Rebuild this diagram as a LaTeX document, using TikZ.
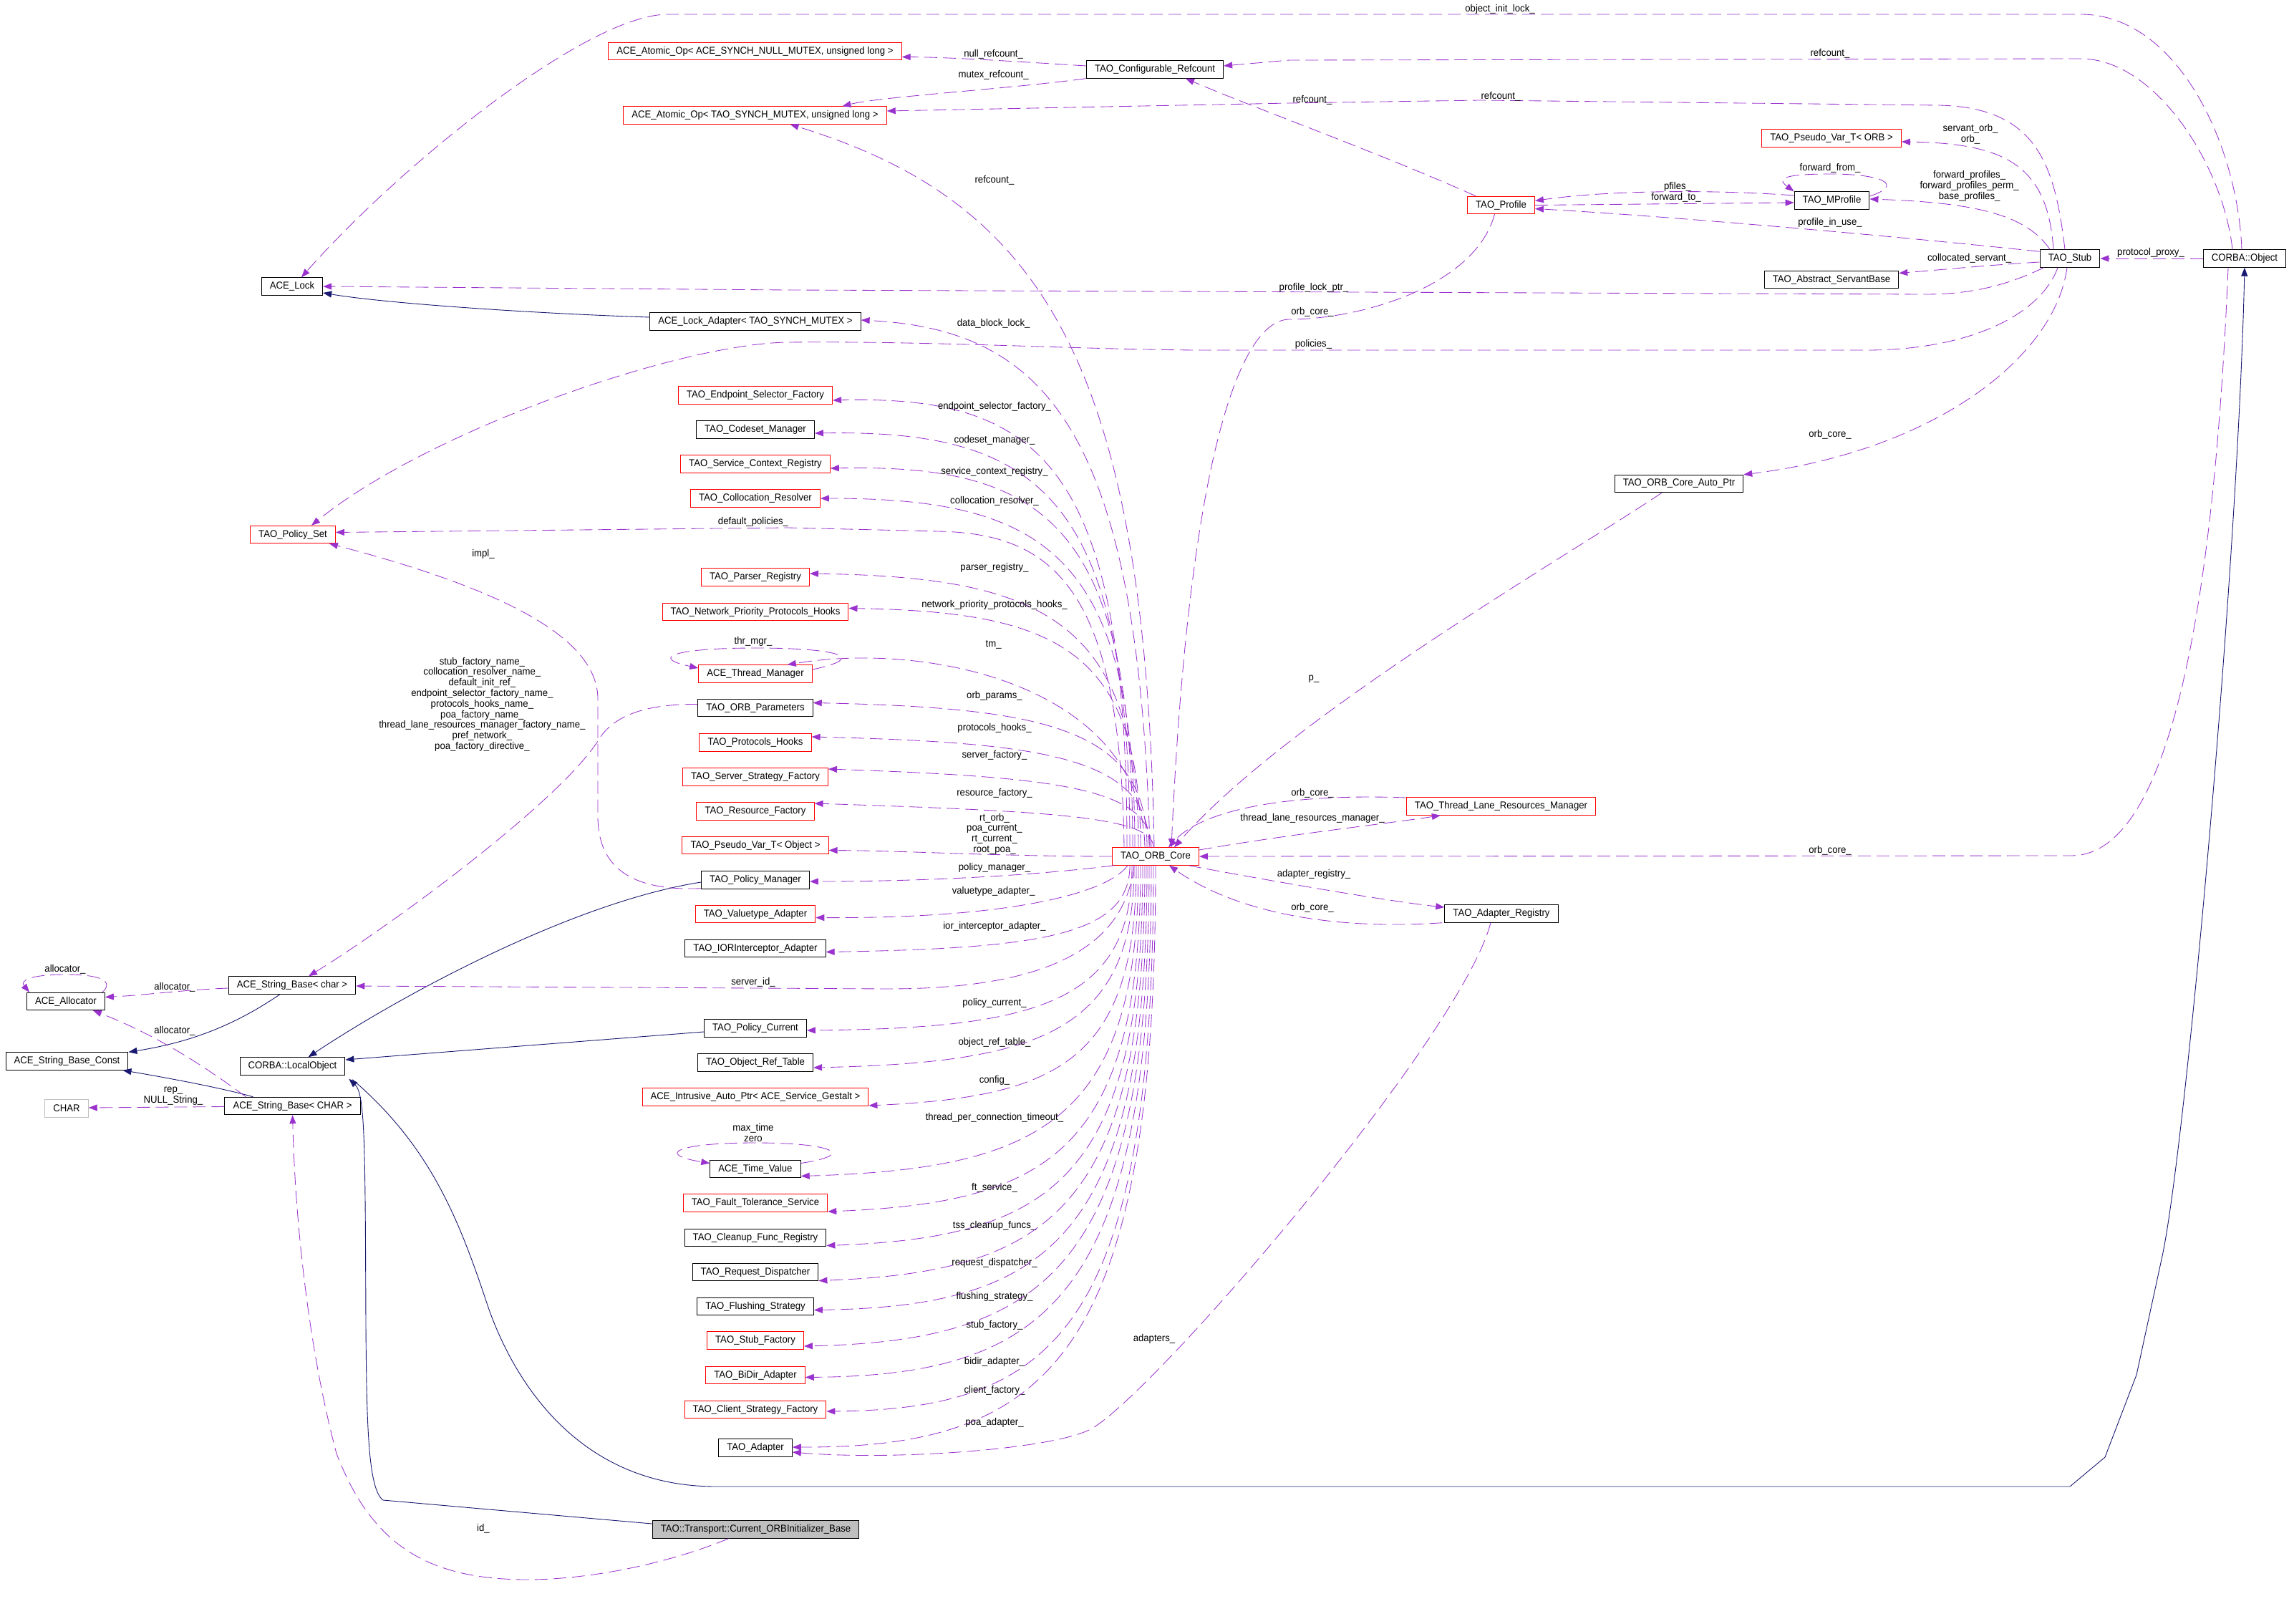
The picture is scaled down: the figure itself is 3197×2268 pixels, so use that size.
\documentclass[tikz,border=0pt]{standalone}
\usepackage{fontspec}
\setmainfont{Liberation Sans}[FakeStretch=0.94]
\usetikzlibrary{arrows.meta,calc}
\definecolor{usecol}{HTML}{9A32CD}
\definecolor{inhcol}{HTML}{191970}
\definecolor{boxgray}{HTML}{BFBFBF}
\begin{document}
\begin{tikzpicture}[x=0.5pt,y=-0.5pt,font=\fontsize{7}{7.4}\selectfont,
  cls/.style={draw,line width=0.5pt,minimum height=12.2pt,inner xsep=5.8pt,inner ysep=0pt},
  usage/.style={draw=usecol,line width=0.42pt,dash pattern=on 9pt off 4pt,-{Triangle[length=6pt,width=4.5pt]}},
  inherit/.style={draw=inhcol,line width=0.45pt,-{Triangle[length=6pt,width=4.5pt]}},
  lbl/.style={inner sep=0pt,align=center}]
\useasboundingbox (0,0) rectangle (3197,2268);
\node[cls] (lock) at (408,400) {ACE\_Lock};
\node[cls,draw=red] (nullop) at (1054.5,71.5) {ACE\_Atomic\_Op< ACE\_SYNCH\_NULL\_MUTEX, unsigned long >};
\node[cls,draw=red] (mutexop) at (1054.5,161) {ACE\_Atomic\_Op< TAO\_SYNCH\_MUTEX, unsigned long >};
\node[cls] (cfgref) at (1613,97) {TAO\_Configurable\_Refcount};
\node[cls,draw=red] (profile) at (2096.5,286.5) {TAO\_Profile};
\node[cls,draw=red] (pvorb) at (2558,193) {TAO\_Pseudo\_Var\_T< ORB >};
\node[cls] (mprofile) at (2558.5,280) {TAO\_MProfile};
\node[cls] (stub) at (2891,361) {TAO\_Stub};
\node[cls] (object) at (3135,361) {CORBA::Object};
\node[cls] (servant) at (2558,390.5) {TAO\_Abstract\_ServantBase};
\node[cls] (lockadapter) at (1055,449) {ACE\_Lock\_Adapter< TAO\_SYNCH\_MUTEX >};
\node[cls,draw=red] (policyset) at (409,746.5) {TAO\_Policy\_Set};
\node[cls] (autoptr) at (2345,675.5) {TAO\_ORB\_Core\_Auto\_Ptr};
\node[cls,draw=red] (core) at (1614,1196) {TAO\_ORB\_Core};
\node[cls,draw=red] (tlrm) at (2096.5,1126) {TAO\_Thread\_Lane\_Resources\_Manager};
\node[cls] (registry) at (2097,1276) {TAO\_Adapter\_Registry};
\node[cls] (strchar) at (408,1376) {ACE\_String\_Base< char >};
\node[cls] (allocator) at (92,1398.5) {ACE\_Allocator};
\node[cls] (strconst) at (93.5,1482) {ACE\_String\_Base\_Const};
\node[cls] (localobj) at (408.5,1489) {CORBA::LocalObject};
\node[cls,draw=boxgray] (char) at (93,1548) {CHAR};
\node[cls] (strCHAR) at (408.6,1544.5) {ACE\_String\_Base< CHAR >};
\node[cls,fill=boxgray] (current) at (1055.5,2136) {TAO::Transport::Current\_ORBInitializer\_Base};
\foreach \nm/\yy/\cc/\tx in {
  epsf/552/red/TAO\_Endpoint\_Selector\_Factory,
  codeset/600/black/TAO\_Codeset\_Manager,
  scr/648/red/TAO\_Service\_Context\_Registry,
  colres/696/red/TAO\_Collocation\_Resolver,
  parser/806/red/TAO\_Parser\_Registry,
  nphooks/854.5/red/TAO\_Network\_Priority\_Protocols\_Hooks,
  thrmgr/941/red/ACE\_Thread\_Manager,
  params/988.5/black/TAO\_ORB\_Parameters,
  phooks/1037/red/TAO\_Protocols\_Hooks,
  ssf/1085/red/TAO\_Server\_Strategy\_Factory,
  resf/1133/red/TAO\_Resource\_Factory,
  pvobj/1180.5/red/TAO\_Pseudo\_Var\_T< Object >,
  polman/1229/black/TAO\_Policy\_Manager,
  vtadapter/1276.5/red/TAO\_Valuetype\_Adapter,
  iorint/1324.5/black/TAO\_IORInterceptor\_Adapter,
  polcur/1436/black/TAO\_Policy\_Current,
  ortable/1484/black/TAO\_Object\_Ref\_Table,
  iap/1532/red/ACE\_Intrusive\_Auto\_Ptr< ACE\_Service\_Gestalt >,
  timeval/1632.5/black/ACE\_Time\_Value,
  fts/1680/red/TAO\_Fault\_Tolerance\_Service,
  cleanup/1728.5/black/TAO\_Cleanup\_Func\_Registry,
  reqdisp/1776.5/black/TAO\_Request\_Dispatcher,
  flush/1824.5/black/TAO\_Flushing\_Strategy,
  stubf/1872/red/TAO\_Stub\_Factory,
  bidir/1920.5/red/TAO\_BiDir\_Adapter,
  csf/1968.5/red/TAO\_Client\_Strategy\_Factory,
  adapter/2022/black/TAO\_Adapter}
  \node[cls,draw=\cc] (\nm) at (1055,\yy) {\tx};
\foreach \nm/\dx/\dy/\ly/\tx in {
  epsf/-40/7/567.5/endpoint\_selector\_factory\_,
  codeset/-36/5/614.7/codeset\_manager\_,
  scr/-32/6/658.5/service\_context\_registry\_,
  colres/-29/0/699.5/collocation\_resolver\_,
  parser/-24/-5/793/parser\_registry\_,
  nphooks/-21/-5/844.6/network\_priority\_protocols\_hooks\_,
  params/-12/-7/972/orb\_params\_,
  phooks/-9/-8/1016.5/protocols\_hooks\_,
  ssf/-6/-11/1055/server\_factory\_,
  resf/-3/-11/1107.6/resource\_factory\_}
{\coordinate (s) at ($(core.north)+(\dx,0)$);
 \draw[usage] (s) .. controls ($(s)!0.85!(s |- \nm.east)$) and ($(\nm.east)!0.7!(s |- \nm.east)$) .. ($(\nm.east)+(0,\dy)$);
 \node[lbl] (l\nm) at (1389,\ly) {\tx};}
\foreach \nm/\dx/\dy/\ly/\tx in {
  iorint/-36/5/1294/ior\_interceptor\_adapter\_,
  polcur/-33/3/1400.6/policy\_current\_,
  ortable/-30/7/1455.6/object\_ref\_table\_,
  iap/-27/12/1508.6/config\_,
  timeval/-24/10/1560.5/thread\_per\_connection\_timeout\_,
  fts/-21/12/1659/ft\_service\_,
  cleanup/-18/11/1712/tss\_cleanup\_funcs\_,
  reqdisp/-15/12/1764/request\_dispatcher\_,
  flush/-12/5/1811/flushing\_strategy\_,
  stubf/-9/8/1850.6/stub\_factory\_,
  bidir/-6/3/1902/bidir\_adapter\_,
  csf/-3/2.5/1942/client\_factory\_,
  adapter/0/-1/1986.4/poa\_adapter\_}
{\coordinate (s) at ($(core.south)+(\dx,0)$);
 \draw[usage] (s) .. controls ($(s)!0.85!(s |- \nm.east)$) and ($(\nm.east)!0.7!(s |- \nm.east)$) .. ($(\nm.east)+(0,\dy)$);
 \node[lbl] (l\nm) at (1389,\ly) {\tx};}
\draw[inherit] ($(lockadapter.west)+(0,-6)$) .. controls (750,438) and (540,424) .. ($(lock.east)+(0,9)$);
\draw[inherit] ($(strchar.south)+(-17,0)$) .. controls (330,1430) and (270,1455) .. (strconst.north east);
\draw[inherit] ($(strCHAR.north west)+(40,0)$) .. controls (320,1522) and (250,1508) .. ($(strconst.south east)+(-8,0)$);
\draw[inherit] ($(polman.west)+(0,3)$) .. controls (800,1260) and (560,1390) .. ($(localobj.north)+(22,0)$);
\draw[inherit] ($(polcur.west)+(0,5)$) -- ($(localobj.east)+(0,-9)$);
\draw[inherit] ($(current.west)+(0,-8)$) -- (535,2095) .. controls (515,2080) and (512,2000) .. (511,1850) .. controls (510,1600) and (510,1528) .. ($(localobj.south east)+(5,5)$);
\draw[inherit] ($(localobj.south east)+(10,6)$) .. controls (600,1600) and (640,1700) .. (680,1820) .. controls (712,1916) and (800,2076) .. (1000,2076) -- (2891,2076) -- (2940,2035) -- (2984,1920) -- (3020,1754) .. controls (3052,1605) and (3125,800) .. (object.south);
\draw[usage] ($(object.north)+(-4,0)$) .. controls (3125,200) and (3040,20) .. (2906,20) -- (933,20) .. controls (820,20) and (560,230) .. ($(lock.north)+(13,0)$);
\node[lbl] (tinit) at (2095,12.6) {object\_init\_lock\_};
\draw[usage] ($(object.north)+(-17,0)$) .. controls (3105,230) and (3010,82) .. (2906,82) -- (1801,84) -- ($(cfgref.east)+(0,-5)$);
\node[lbl] (tref1) at (2556,74.6) {refcount\_};
\draw[usage] ($(stub.north)+(-7,0)$) .. controls (2870,230) and (2845,150) .. (2708,147) -- (2067,140) -- (1801,144) -- ($(mutexop.east)+(0,-6)$);
\node[lbl] (tref2) at (2096,135) {refcount\_};
\draw[usage] ($(profile.north west)+(12,0)$) .. controls (1930,215) and (1750,150) .. ($(cfgref.south)+(43,0)$);
\node[lbl] (tref3) at (1833,140) {refcount\_};
\draw[usage] ($(core.north)+(-2,0)$) .. controls (1600,500) and (1450,280) .. ($(mutexop.south)+(49,0)$);
\node[lbl] (tref4) at (1389,252) {refcount\_};
\draw[usage] ($(cfgref.west)+(0,-5)$) .. controls (1420,86) and (1330,80) .. ($(nullop.east)+(0,8)$);
\node[lbl] (tnull) at (1387.6,75.4) {null\_refcount\_};
\draw[usage] (cfgref.south west) .. controls (1400,125) and (1230,135) .. ($(mutexop.north)+(122,0)$);
\node[lbl] (tmutex) at (1387.6,104.5) {mutex\_refcount\_};
\draw[usage] ($(stub.south west)+(6,0)$) .. controls (2800,400) and (2750,411) .. (2689,411) -- (1100,405) -- (lock.east);
\node[lbl] (tplock) at (1835,402) {profile\_lock\_ptr\_};
\draw[usage] ($(stub.south)+(-17,0)$) .. controls (2850,440) and (2750,489) .. (2607,489) -- (1672,489) .. controls (1507,488) and (1300,476) .. (1100,478) .. controls (950,480) and (600,600) .. ($(policyset.north)+(26,0)$);
\node[lbl] (tpol) at (1834.5,481) {policies\_};
\draw[usage] ($(core.north)+(-8,0)$) .. controls (1590,600) and (1460,460) .. ($(lockadapter.east)+(0,-2)$);
\node[lbl] (tdbl) at (1387.6,451.6) {data\_block\_lock\_};
\draw[usage] ($(profile.south)+(-9,0)$) .. controls (2060,400) and (1900,446) .. (1801,446) .. controls (1730,446) and (1660,650) .. ($(core.north)+(22,0)$);
\node[lbl] (tocp) at (1833,435.5) {orb\_core\_};
\draw[usage] (object.west) -- (stub.east);
\node[lbl] (tproxy) at (3004,352.5) {protocol\_proxy\_};
\draw[usage] ($(stub.north)+(-23,0)$) .. controls (2860,230) and (2800,200) .. ($(pvorb.east)+(0,5)$);
\node[lbl] (torb) at (2752,187) {servant\_orb\_\\orb\_};
\draw[usage] ($(stub.north)+(-28,0)$) .. controls (2830,300) and (2760,283) .. ($(mprofile.east)+(0,-2)$);
\node[lbl] (tfwd) at (2750.6,260) {forward\_profiles\_\\forward\_profiles\_perm\_\\base\_profiles\_};
\draw[usage] ($(stub.north west)+(0,3)$) .. controls (2600,325) and (2300,300) .. ($(profile.east)+(0,5)$);
\node[lbl] (tuse) at (2556,310.7) {profile\_in\_use\_};
\draw[usage] ($(mprofile.west)+(0,-7)$) .. controls (2400,265) and (2250,265) .. ($(profile.east)+(0,-6)$);
\node[lbl] (tpf) at (2343,260.6) {pfiles\_};
\draw[usage] (profile.east) -- ($(mprofile.west)+(0,3)$);
\node[lbl] (tfto) at (2341,276) {forward\_to\_};
\draw[usage] ($(mprofile.east)+(0,-6)$) .. controls (2660,258) and (2630,243) .. (2556,243) .. controls (2480,243) and (2485,252) .. (mprofile.north west);
\node[lbl] (tffrom) at (2556,235) {forward\_from\_};
\draw[usage] ($(stub.west)+(0,5)$) .. controls (2780,370) and (2720,376) .. ($(servant.east)+(0,-9)$);
\node[lbl] (tcoll) at (2750.6,360.5) {collocated\_servant\_};
\draw[usage] ($(stub.south)+(-4,0)$) .. controls (2870,500) and (2700,630) .. (autoptr.north east);
\node[lbl] (tocs) at (2556,606.7) {orb\_core\_};
\draw[usage] ($(autoptr.south)+(-24,0)$) .. controls (2200,770) and (1800,1000) .. ($(core.north)+(26,0)$);
\node[lbl] (tp) at (1835,948) {p\_};
\draw[usage] ($(object.south)+(-23,0)$) .. controls (3090,900) and (3020,1195) .. (2893,1195) -- (core.east);
\node[lbl] (toco) at (2556,1187.5) {orb\_core\_};
\draw[usage] ($(core.east)+(0,-9)$) .. controls (1800,1165) and (1940,1150) .. ($(tlrm.south west)+(48,0)$);
\node[lbl] (ttlrm) at (1833,1143) {thread\_lane\_resources\_manager\_};
\draw[usage] ($(tlrm.west)+(0,-12)$) .. controls (1800,1108) and (1680,1130) .. ($(core.north)+(18,0)$);
\node[lbl] (toct) at (1833,1108) {orb\_core\_};
\draw[usage] ($(core.south east)+(-15,0)$) .. controls (1800,1235) and (1950,1260) .. ($(registry.west)+(0,-9)$);
\node[lbl] (tareg) at (1835,1220.5) {adapter\_registry\_};
\draw[usage] ($(registry.south west)+(-3,0)$) .. controls (1850,1300) and (1720,1270) .. ($(core.south)+(19,0)$);
\node[lbl] (tocr) at (1833,1268) {orb\_core\_};
\draw[usage] ($(registry.south)+(-15,0)$) .. controls (2040,1450) and (1600,1960) .. (1521,1997) .. controls (1466,2024) and (1250,2040) .. ($(adapter.east)+(0,6)$);
\node[lbl] (tadp) at (1612,1870) {adapters\_};
\draw[usage] ($(core.north)+(-44,0)$) .. controls (1565,820) and (1470,745) .. (1310,742) -- (1100,737) -- ($(policyset.east)+(0,-3)$);
\node[lbl] (tdefp) at (1052,728.6) {default\_policies\_};
\draw[usage] ($(core.north)+(-15,0)$) .. controls (1595,960) and (1300,895) .. ($(thrmgr.north east)+(-35,0)$);
\node[lbl] (ttm) at (1387.6,900.4) {tm\_};
\draw[usage] ($(thrmgr.east)+(0,-6)$) .. controls (1215,918) and (1170,905) .. (1055,905) .. controls (945,905) and (905,918) .. ($(thrmgr.west)+(0,-8)$);
\node[lbl] (tthr) at (1052,896) {thr\_mgr\_};
\draw[usage] (core.west) .. controls (1400,1196) and (1260,1188) .. ($(pvobj.east)+(0,7)$);
\node[lbl] (tpoa) at (1389,1164.7) {rt\_orb\_\\poa\_current\_\\rt\_current\_\\root\_poa\_};
\draw[usage] ($(core.south west)+(3,0)$) .. controls (1450,1222) and (1300,1231) .. ($(polman.east)+(0,2)$);
\node[lbl] (tpm) at (1389,1211.6) {policy\_manager\_};
\draw[usage] ($(core.south)+(-39,0)$) .. controls (1545,1250) and (1400,1283) .. ($(vtadapter.east)+(0,5)$);
\node[lbl] (tvt) at (1387.6,1245) {valuetype\_adapter\_};
\draw[usage] ($(core.south)+(-30,0)$) .. controls (1570,1330) and (1450,1381) .. (1240,1381) -- ($(strchar.east)+(0,1)$);
\node[lbl] (tsid) at (1052,1372) {server\_id\_};
\draw[usage] ($(timeval.east)+(0,-8)$) .. controls (1200,1612) and (1160,1596) .. (1055,1596) .. controls (945,1596) and (915,1612) .. ($(timeval.west)+(0,-8)$);
\node[lbl] (tmax) at (1052,1582) {max\_time\\zero};
\draw[usage] ($(params.west)+(0,-5)$) .. controls (900,983) and (855,1000) .. (835,1035) .. controls (780,1120) and (550,1290) .. ($(strchar.north)+(23,0)$);
\node[lbl] (tnames) at (673.4,983.7) {stub\_factory\_name\_\\collocation\_resolver\_name\_\\default\_init\_ref\_\\endpoint\_selector\_factory\_name\_\\protocols\_hooks\_name\_\\poa\_factory\_name\_\\thread\_lane\_resources\_manager\_factory\_name\_\\pref\_network\_\\poa\_factory\_directive\_};
\draw[usage] ($(polman.south west)+(0,-1)$) .. controls (880,1245) and (835,1210) .. (835,1140) -- (835,980) .. controls (838,900) and (730,830) .. ($(policyset.south east)+(-9,0)$);
\node[lbl] (timpl) at (675,774) {impl\_};
\draw[usage] ($(strchar.west)+(0,4)$) .. controls (260,1382) and (200,1390) .. ($(allocator.east)+(0,-6)$);
\node[lbl] (talc1) at (244,1378.4) {allocator\_};
\draw[usage] ($(allocator.north east)+(-4,0)$) .. controls (160,1370) and (140,1361) .. (92,1361) .. controls (40,1361) and (28,1370) .. ($(allocator.north west)+(4,0)$);
\node[lbl] (talc2) at (91,1354) {allocator\_};
\draw[usage] ($(strCHAR.north west)+(30,0)$) .. controls (300,1500) and (230,1450) .. ($(allocator.south east)+(-17,0)$);
\node[lbl] (talc3) at (244,1439.5) {allocator\_};
\draw[usage] ($(strCHAR.west)+(0,1)$) -- ($(char.east)+(0,-1)$);
\node[lbl] (trep) at (242,1530.6) {rep\_\\NULL\_String\_};
\draw[usage] ($(current.south)+(-38,0)$) .. controls (930,2185) and (820,2206) .. (737,2206) .. controls (600,2206) and (520,2160) .. (470,2030) .. controls (430,1880) and (412,1700) .. (strCHAR.south);
\node[lbl] (tid) at (675,2134.6) {id\_};
\end{tikzpicture}
\end{document}
